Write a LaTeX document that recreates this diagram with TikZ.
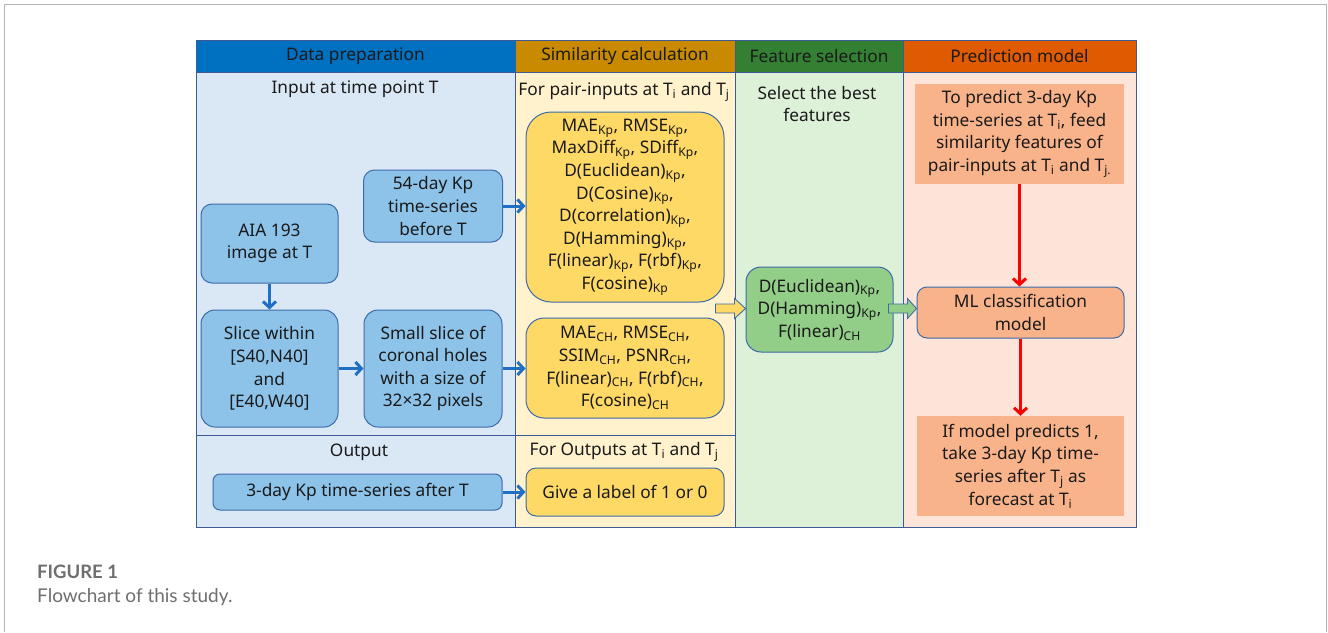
\documentclass[tikz,border=0pt]{standalone}
\usepackage{fontspec}
\setmainfont{Noto Sans}
\newfontfamily\capfont{Lato}
\usetikzlibrary{arrows.meta,calc}
\definecolor{hdblue}{HTML}{0070C0}
\definecolor{hdgold}{HTML}{C98A00}
\definecolor{hdgreen}{HTML}{338033}
\definecolor{hdorange}{HTML}{E05A00}
\definecolor{bgblue}{HTML}{DAE8F6}
\definecolor{bgyellow}{HTML}{FFF2CC}
\definecolor{bggreen}{HTML}{DDF0D8}
\definecolor{bgpeach}{HTML}{FDE4D8}
\definecolor{boxblue}{HTML}{8DC3E9}
\definecolor{boxyellow}{HTML}{FFD966}
\definecolor{boxgreen}{HTML}{93CE88}
\definecolor{boxorange}{HTML}{F9B38A}
\definecolor{edgec}{HTML}{3E6BA8}
\definecolor{tableedge}{HTML}{3F5B96}
\definecolor{arrowblue}{HTML}{1F6FC4}
\definecolor{framegray}{HTML}{B4B4B4}
\definecolor{capgray}{HTML}{6E6E6E}
\definecolor{txt}{HTML}{1A1A1A}
\newcommand{\sbs}[1]{\textsubscript{#1}}
\begin{document}
\begin{tikzpicture}[x=1pt,y=-1pt,
  every node/.style={font=\fontsize{17.3}{22.6}\selectfont, text=txt, inner sep=0pt, align=center},
  hdr/.style={draw=tableedge, line width=1pt, minimum height=32pt},
  lbl/.style={},
  rbox/.style={draw=edgec, line width=1pt, rounded corners=#1},
  rbox/.default=11pt,
  bbox/.style={rbox, fill=boxblue},
  ybox/.style={rbox=#1, fill=boxyellow},
  ybox/.default=11pt,
  obox/.style={fill=boxorange},
  barrow/.style={draw=arrowblue, line width=3pt, -{Straight Barb[length=6pt,width=13pt]}},
  rarrow/.style={draw=red, line width=3pt, -{Straight Barb[length=6pt,width=13pt]}},
  blockarrow/.style={draw=edgec, line width=0.9pt, line join=miter}
]
\useasboundingbox (0,0) rectangle (1328,632);
% outer frame
\draw[framegray, line width=1.3pt] (4.5,632) -- (4.5,4.5) -- (1326.5,4.5) -- (1326.5,632);
% column bodies
\fill[bgblue] (196,72) rectangle (515,527);
\fill[bgyellow] (515,72) rectangle (735,527);
\fill[bggreen] (735,72) rectangle (903,527);
\fill[bgpeach] (903,72) rectangle (1136,527);
\draw[tableedge, line width=1pt] (196,40) rectangle (1136,527);
\draw[tableedge, line width=1pt] (515,40) -- (515,527) (735,40) -- (735,527) (903,40) -- (903,527);
\draw[tableedge, line width=1pt] (196,435) -- (735,435);
% headers
\node[hdr, fill=hdblue, minimum width=319pt] (h1) at (355.5,56) {Data preparation};
\node[hdr, fill=hdgold, minimum width=220pt] (h2) at (625,56) {Similarity calculation};
\node[hdr, fill=hdgreen, minimum width=168pt] (h3) at (819,56) {Feature selection};
\node[hdr, fill=hdorange, minimum width=233pt] (h4) at (1019.5,56) {Prediction model};
% column 1
\node[lbl] (inlbl) at (355,89) {Input at time point T};
\node[bbox, minimum width=139pt, minimum height=72pt] (kp54) at (433,206) {54-day Kp\\time-series\\before T};
\node[bbox, minimum width=137pt, minimum height=79pt] (aia) at (269.5,243.5) {AIA 193\\image at T};
\node[bbox, rbox=14pt, minimum width=137pt, minimum height=117pt] (slice) at (269.5,368.5) {Slice within\\{[S40,N40]}\\and\\{[E40,W40]}};
\node[bbox, rbox=14pt, minimum width=138pt, minimum height=117pt] (small) at (433,368.5) {Small slice of\\coronal holes\\with a size of\\32×32 pixels};
\node[lbl] (outlbl) at (359,452) {Output};
\node[bbox, rbox=7pt, minimum width=289pt, minimum height=36pt] (out) at (357.5,492) {3-day Kp time-series after T};
% column 2
\node[lbl] (pairlbl) at (624,92) {For pair-inputs at T\sbs{i} and T\sbs{j}};
\node[ybox=25pt, minimum width=198pt, minimum height=190pt] (maekp) at (625,207) {MAE\sbs{Kp}, RMSE\sbs{Kp},\\MaxDiff\sbs{Kp}, SDiff\sbs{Kp},\\D(Euclidean)\sbs{Kp},\\D(Cosine)\sbs{Kp},\\D(correlation)\sbs{Kp},\\D(Hamming)\sbs{Kp},\\F(linear)\sbs{Kp}, F(rbf)\sbs{Kp},\\F(cosine)\sbs{Kp}};
\node[ybox=18pt, minimum width=198pt, minimum height=100pt] (maech) at (625,368) {MAE\sbs{CH}, RMSE\sbs{CH},\\SSIM\sbs{CH}, PSNR\sbs{CH},\\F(linear)\sbs{CH}, F(rbf)\sbs{CH},\\F(cosine)\sbs{CH}};
\node[lbl] (outpairlbl) at (624,452) {For Outputs at T\sbs{i} and T\sbs{j}};
\node[ybox=10pt, minimum width=198pt, minimum height=48pt] (label) at (625,492) {Give a label of 1 or 0};
% column 3
\node[lbl] (sellbl) at (817,104) {Select the best\\features};
\node[rbox=15pt, fill=boxgreen, minimum width=147pt, minimum height=85pt] (green) at (819.5,309.5) {D(Euclidean)\sbs{Kp},\\D(Hamming)\sbs{Kp},\\F(linear)\sbs{CH}};
% column 4
\node[obox, minimum width=209pt, minimum height=100pt] (top) at (1019.5,134) {To predict 3-day Kp\\time-series at T\sbs{i}, feed\\similarity features of\\pair-inputs at T\sbs{i} and T\sbs{j.}};
\node[rbox=10pt, fill=boxorange, minimum width=207pt, minimum height=51pt] (ml) at (1020.5,312.5) {ML classification\\model};
\node[obox, minimum width=207pt, minimum height=100pt] (bot) at (1020.5,466) {If model predicts 1,\\take 3-day Kp time-\\series after T\sbs{j} as\\forecast at T\sbs{i}};
% blue arrows
\draw[barrow] (kp54.east) -- (kp54.east -| maekp.west);
\draw[barrow] (aia.south) -- (slice.north);
\draw[barrow] (slice.east) -- (small.west);
\draw[barrow] (small.east) -- (small.east -| maech.west);
\draw[barrow] (out.east) -- (out.east -| label.west);
% red arrows
\draw[rarrow] (top.south) -- (top.south |- ml.north);
\draw[rarrow] (ml.south) -- (bot.north);
% block arrows
\coordinate (ya) at ($(green.west)+(0,-1)$);
\draw[blockarrow, fill=boxyellow] ($(ya)+(-30,-4.5)$) -- ($(ya)+(-11,-4.5)$) -- ($(ya)+(-11,-10)$) -- (ya) -- ($(ya)+(-11,10)$) -- ($(ya)+(-11,4.5)$) -- ($(ya)+(-30,4.5)$) -- cycle;
\coordinate (ga) at ($(ml.west)+(0,-4)$);
\draw[blockarrow, fill=boxgreen] ($(ga)+(-28,-4.5)$) -- ($(ga)+(-9,-4.5)$) -- ($(ga)+(-9,-10)$) -- (ga) -- ($(ga)+(-9,10)$) -- ($(ga)+(-9,4.5)$) -- ($(ga)+(-28,4.5)$) -- cycle;
% caption
\node[anchor=base west, font=\capfont\bfseries\fontsize{18.5}{20}\selectfont, text=capgray] (fig) at (37,578) {FIGURE 1};
\node[anchor=base west, font=\capfont\fontsize{19}{21}\selectfont, text=capgray] (cap) at (37,602) {Flowchart of this study.};
\end{tikzpicture}
\end{document}
